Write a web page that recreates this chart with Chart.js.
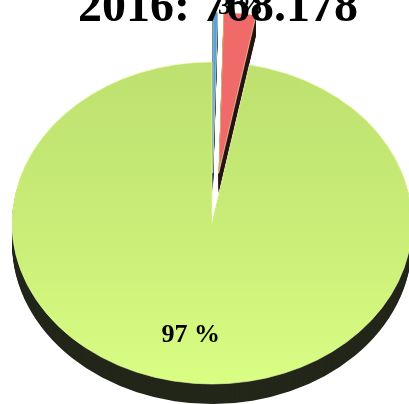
<!DOCTYPE html>
<html>
<head>
<meta charset="utf-8">
<script src="https://cdn.jsdelivr.net/npm/chart.js@4/dist/chart.umd.min.js"></script>
<style>
  html, body { margin: 0; padding: 0; background: #fff; }
  #wrap { width: 409px; height: 404px; position: relative; }
</style>
</head>
<body>
<div id="wrap"><canvas id="pieChart"></canvas></div>
<script>
// chart data
const year = '2016';
const total = '768.178';
const categories = ['Series 1', 'Series 2', 'Series 3'];
const shares = [0.4, 2.6, 97];

// look of the fake 3d pie
const topColors = ['#5b9de6', '#f06a6a', null];
const sideColors = ['#1b2a40', '#2a1414', '#23271a'];
const explode = [62, 62, 0];
const CX = 212, CY = 223, TILT = 0.805, DEPTH = 20;

function arcCenterMove(arc, i) {
    const mid = (arc.startAngle + arc.endAngle) / 2;
    return [Math.cos(mid) * explode[i], Math.sin(mid) * explode[i]];
}

const pie3d = {
    id: 'pie3d',
    beforeDatasetsDraw(chart) {
        const ctx = chart.ctx;
        const arcs = chart.getDatasetMeta(0).data;
        // side walls, stacked from the bottom up
        for (let d = DEPTH; d >= 1; d--) {
            arcs.forEach((arc, i) => {
                const [mx, my] = arcCenterMove(arc, i);
                ctx.save();
                ctx.translate(CX, CY + d);
                ctx.scale(1, TILT);
                ctx.translate(mx, my);
                ctx.beginPath();
                ctx.moveTo(0, 0);
                ctx.arc(0, 0, arc.outerRadius, arc.startAngle, arc.endAngle);
                ctx.closePath();
                ctx.fillStyle = sideColors[i];
                ctx.fill();
                ctx.restore();
            });
        }
        // top faces drawn by the arc elements themselves
        arcs.forEach((arc, i) => {
            const [mx, my] = arcCenterMove(arc, i);
            ctx.save();
            ctx.translate(CX, CY);
            ctx.scale(1, TILT);
            ctx.translate(mx - arc.x, my - arc.y);
            arc.draw(ctx);
            ctx.restore();
        });
        return false;
    },
    afterDraw(chart) {
        const ctx = chart.ctx;
        const arcs = chart.getDatasetMeta(0).data;
        ctx.save();
        // percentage labels
        ctx.font = 'bold 26px "Liberation Serif"';
        ctx.fillStyle = '#000';
        ctx.textAlign = 'center';
        ctx.textBaseline = 'middle';
        arcs.forEach((arc, i) => {
            const pct = Math.round(shares[i]);
            if (pct < 1) return;
            const small = shares[i] < 5;
            const mid = (arc.startAngle + arc.endAngle) / 2;
            const r = small ? arc.outerRadius + explode[i] + 8 : arc.outerRadius * 0.7;
            const x = CX + Math.cos(mid) * r - (small ? 0 : 8);
            const y = CY + Math.sin(mid) * r * TILT;
            ctx.fillText(pct + ' %', x, y);
        });
        // title on top
        ctx.font = 'bold 48px "Liberation Serif"';
        ctx.textBaseline = 'alphabetic';
        ctx.fillText(year + ': ' + total, 218, 21);
        ctx.restore();
    }
};

function sliceColor(context) {
    const i = context.dataIndex;
    if (topColors[i]) return topColors[i];
    const area = context.chart.chartArea;
    if (!area) return '#c8ec78';
    const cy = (area.top + area.bottom) / 2;
    const g = context.chart.ctx.createLinearGradient(0, cy - 200, 0, cy + 200);
    g.addColorStop(0, '#bde070');
    g.addColorStop(0.6, '#cbef78');
    g.addColorStop(1, '#dafe84');
    return g;
}

new Chart(document.getElementById('pieChart'), {
    type: 'pie',
    data: {
        labels: categories,
        datasets: [{
            data: shares,
            backgroundColor: sliceColor,
            borderColor: 'rgba(235,255,170,0.7)',
            borderWidth: 1,
            offset: 0,
            hoverOffset: 0
        }]
    },
    options: {
        responsive: true,
        maintainAspectRatio: false,
        animation: false,
        radius: 200,
        layout: { padding: 0 },
        events: [],
        plugins: {
            legend: { display: false },
            tooltip: { enabled: false },
            title: { display: false }
        }
    },
    plugins: [pie3d]
});
</script>
</body>
</html>
